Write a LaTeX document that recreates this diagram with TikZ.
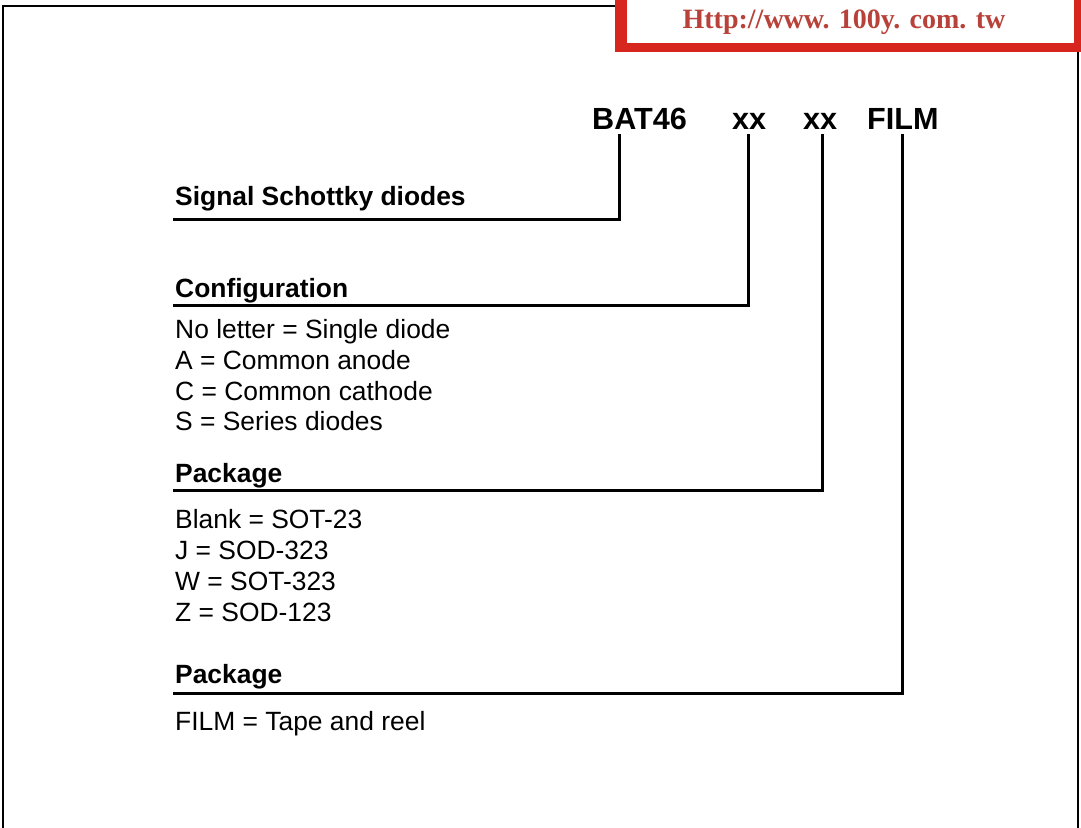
\documentclass[tikz,border=0pt]{standalone}
\usepackage{fontspec}
\setmainfont{Liberation Sans}
\newfontfamily\urlfont{Liberation Serif}
\definecolor{boxred}{HTML}{D7261E}
\definecolor{urlred}{HTML}{B8423A}
\begin{document}
\begin{tikzpicture}[x=1pt,y=-1pt,
  code/.style={font=\fontsize{30.6}{36}\selectfont\bfseries, inner sep=0pt, anchor=base west},
  head/.style={font=\fontsize{26.4}{31}\selectfont\bfseries, inner sep=0pt, anchor=base west},
  body/.style={font=\fontsize{26.4}{31}\selectfont, inner sep=0pt, anchor=base west},
  lead/.style={line width=3pt, line join=miter},
  frame/.style={line width=2.5pt},
]
\useasboundingbox (0,0) rectangle (1081,827);
\fill[white] (0,0) rectangle (1081,827);
% outer frame
\draw[frame] (3,840) -- (3,6) -- (620,6);
\draw[frame] (1078,40) -- (1078,840);
% red banner
\fill[boxred] (615,-10) rectangle (1081,52);
\fill[white] (627,-10) rectangle (1074,43);
\node[font=\urlfont\bfseries\fontsize{28}{32}\selectfont, text=urlred, inner sep=0pt] (url) at (844,22) {Http://www. 100y. com. tw};
% part number
\node[code] (bat) at (592,129) {BAT46};
\node[code] (xa) at (732,129) {xx};
\node[code] (xb) at (803,129) {xx};
\node[code] (film) at (867,129) {FILM};
% headings
\node[head] (h1) at (175,205) {Signal Schottky diodes};
\node[head] (h2) at (175,297) {Configuration};
\node[head] (h3) at (175,482) {Package};
\node[head] (h4) at (175,683) {Package};
% body
\node[body] (c1) at (175,338) {No letter = Single diode};
\node[body] (c2) at (175,369) {A = Common anode};
\node[body] (c3) at (175,400) {C = Common cathode};
\node[body] (c4) at (175,430) {S = Series diodes};
\node[body] (p1) at (175,528) {Blank = SOT-23};
\node[body] (p2) at (175,559) {J = SOD-323};
\node[body] (p3) at (175,590) {W = SOT-323};
\node[body] (p4) at (175,621) {Z = SOD-123};
\node[body] (f1) at (175,730) {FILM = Tape and reel};
% leader coordinates
\coordinate (t1) at (619,134);
\coordinate (t2) at (748,134);
\coordinate (t3) at (822,134);
\coordinate (t4) at (902,134);
\coordinate (u1) at (173,219);
\coordinate (u2) at (173,305);
\coordinate (u3) at (173,490);
\coordinate (u4) at (173,693);
\draw[lead] (t1) |- (u1);
\draw[lead] (t2) |- (u2);
\draw[lead] (t3) |- (u3);
\draw[lead] (t4) |- (u4);
\end{tikzpicture}
\end{document}
